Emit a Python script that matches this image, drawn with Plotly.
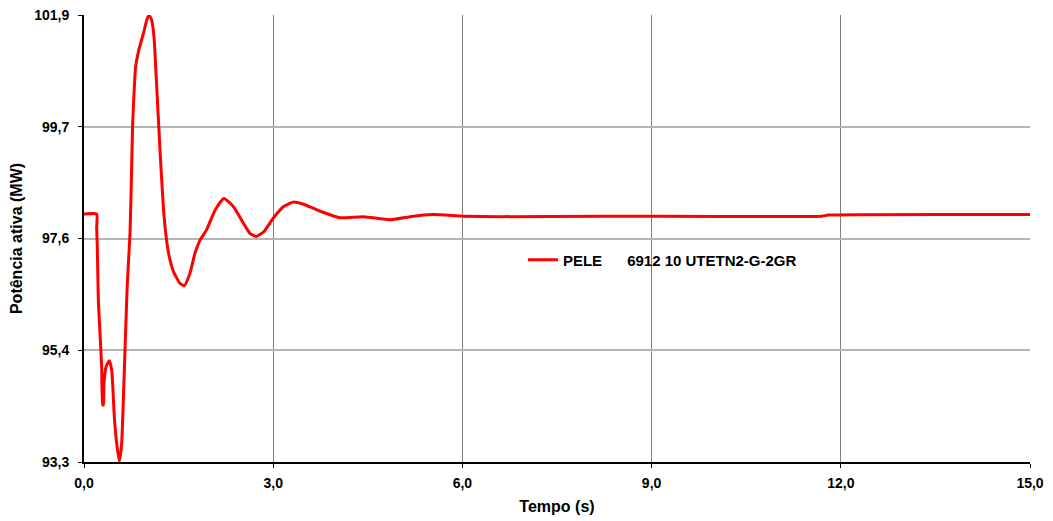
import plotly.graph_objects as go

# Time (s)
tempo = [0.0, 0.20, 0.201, 0.211, 0.227, 0.254, 0.280, 0.296, 0.307, 0.317, 0.349,
         0.402, 0.439, 0.481, 0.518, 0.560, 0.597, 0.624, 0.650, 0.687, 0.730,
         0.756, 0.770, 0.793, 0.819, 0.870, 0.950, 0.994, 1.030, 1.073, 1.110,
         1.150, 1.205, 1.270, 1.340, 1.420, 1.520, 1.590, 1.680, 1.760, 1.840,
         1.945, 2.080, 2.220, 2.370, 2.530, 2.630, 2.730, 2.850, 3.000, 3.160,
         3.320, 3.480, 3.640, 3.800, 4.060, 4.430, 4.850, 5.170, 5.540, 6.010,
         6.600, 8.200, 11.70, 11.80, 15.00]

# Active power (MW)
potencia = [98.07, 98.07, 97.80, 97.44, 96.42, 95.77, 95.13, 94.40, 94.40, 94.81, 95.13,
            95.25, 95.07, 94.17, 93.66, 93.31, 93.66, 94.49, 95.45, 96.74, 97.71,
            98.98, 99.75, 100.39, 100.91, 101.23, 101.58, 101.80, 101.90, 101.80, 101.48,
            100.59, 99.30, 98.02, 97.32, 96.96, 96.74, 96.69, 96.93, 97.32, 97.57,
            97.77, 98.15, 98.37, 98.21, 97.89, 97.70, 97.64, 97.73, 97.99, 98.21,
            98.30, 98.26, 98.18, 98.10, 98.00, 98.02, 97.96, 98.02, 98.06, 98.03,
            98.02, 98.03, 98.03, 98.05, 98.06]

serie_nome = "PELE\u00a0\u00a0\u00a0\u00a0\u00a0\u00a06912 10 UTETN2-G-2GR"

y_ticks = [93.3, 95.45, 97.6, 99.75, 101.9]
y_labels = ["93,3", "95,4", "97,6", "99,7", "101,9"]
x_ticks = [0, 3, 6, 9, 12, 15]
x_labels = ["0,0", "3,0", "6,0", "9,0", "12,0", "15,0"]

FONT = "Liberation Sans, Arial, sans-serif"
TICK = dict(family=FONT, size=14, color="black", weight="bold")
TITLE = dict(family=FONT, size=16, color="black", weight="bold")

fig = go.Figure()
fig.add_trace(go.Scatter(
    x=tempo, y=potencia, mode="lines", name=serie_nome,
    line=dict(color="#ff0000", width=3, shape="spline", smoothing=0.5),
    showlegend=True,
))

# page body has an 8px margin, so the figure is sized/offset to compensate
fig.update_layout(
    width=1045, height=513,
    margin=dict(l=76, r=23, t=7, b=59),
    paper_bgcolor="white", plot_bgcolor="white",
    font=dict(family=FONT, size=15, color="black", weight="bold"),
    showlegend=True,
    legend=dict(x=0.464, y=0.452, xanchor="left", yanchor="middle",
                bgcolor="rgba(0,0,0,0)", borderwidth=0,
                font=dict(family=FONT, size=15, color="black", weight="bold")),
    xaxis=dict(
        range=[0, 15], tickvals=x_ticks, ticktext=x_labels, automargin=False,
        showgrid=True, gridcolor="#7f7f7f", gridwidth=1,
        showline=True, linecolor="black", linewidth=2, mirror=False,
        ticks="outside", ticklen=4, tickcolor="black", tickwidth=1,
        ticklabelstandoff=3, zeroline=False, ticklabeloverflow="allow",
        title=dict(text="Tempo (s)", standoff=11, font=TITLE),
        tickfont=TICK,
    ),
    yaxis=dict(
        range=[93.3, 101.9], tickvals=y_ticks, ticktext=y_labels, automargin=False,
        showgrid=True, gridcolor="#b4b4b4", gridwidth=1.5,
        showline=True, linecolor="black", linewidth=2, mirror=False,
        ticks="outside", ticklen=4, tickcolor="black", tickwidth=1,
        ticklabelstandoff=6, zeroline=False, ticklabeloverflow="allow",
        title=dict(text="Potência ativa (MW)", standoff=12, font=TITLE),
        tickfont=TICK,
    ),
)

fig.write_html("out.html")
